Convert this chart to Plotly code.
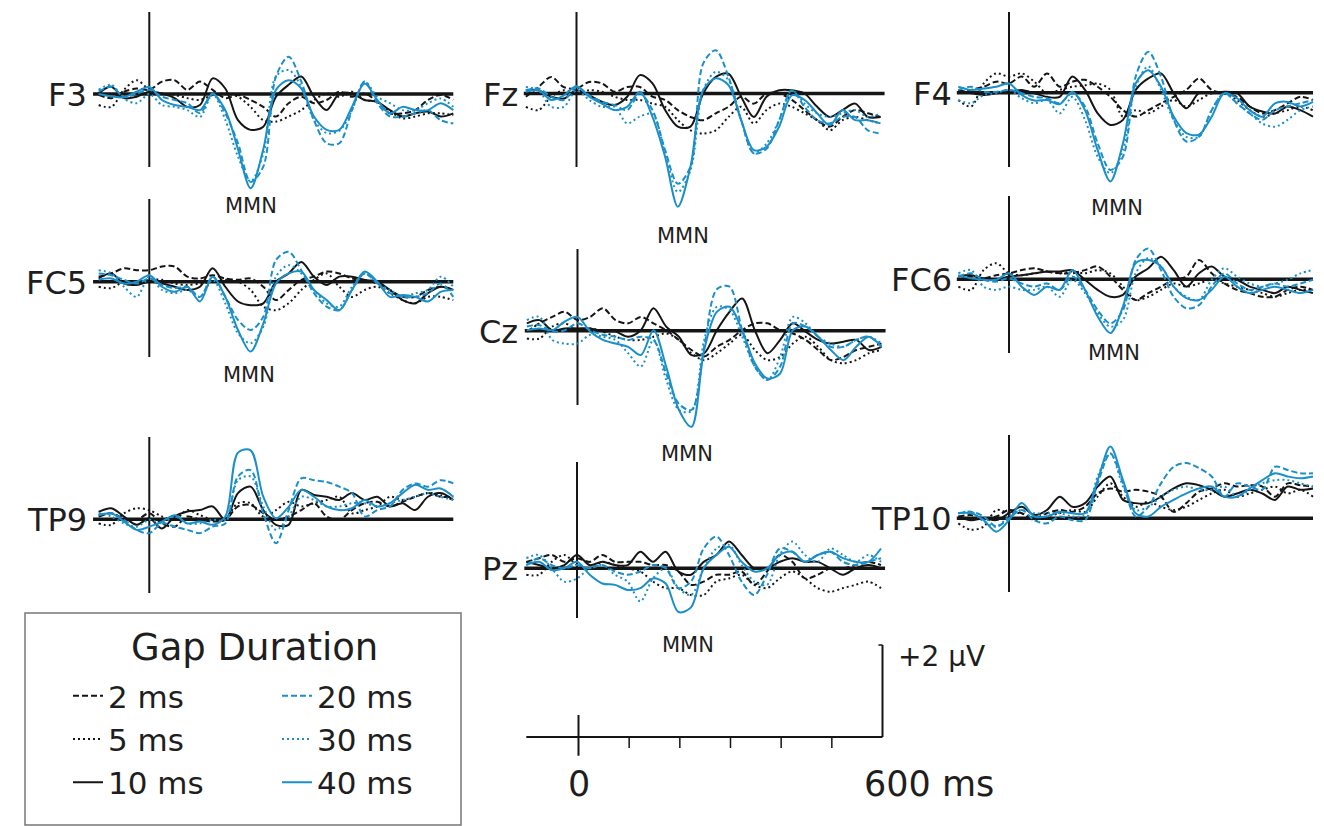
import plotly.graph_objects as go

# ---------------- data (µV), sampled every 25 ms ----------------
TIME_MS = [-100, -75, -50, -25, 0, 25, 50, 75, 100, 125, 150, 175, 200, 225, 250,
           275, 300, 325, 350, 375, 400, 425, 450, 475, 500, 525, 550, 575, 600]

GAPS = ["2 ms", "5 ms", "10 ms", "20 ms", "30 ms", "40 ms"]
ELECTRODES = ["F3", "Fz", "F4", "FC5", "Cz", "FC6", "TP9", "Pz", "TP10"]

F3_2 = [-0.02, -0.09, 0.05, 0.12, 0.09, 0.27, 0.30, 0.09, 0.27, 0.09, -0.09, -0.02, -0.13, -0.28, -0.49, -0.20, -0.06, -0.20, -0.13, 0.05, -0.06, 0.01, -0.17, -0.42, -0.42, -0.35, -0.13, -0.02, -0.13]
F3_5 = [-0.24, -0.28, 0.09, 0.30, 0.09, 0.01, -0.02, -0.09, -0.13, -0.02, 0.01, -0.06, -0.28, -0.57, -0.60, -0.49, -0.35, -0.13, 0.01, -0.06, 0.05, -0.13, -0.17, -0.38, -0.53, -0.49, -0.42, -0.42, -0.46]
F3_10 = [0.01, 0.16, -0.09, -0.06, 0.05, 0.01, -0.09, -0.28, -0.24, 0.34, 0.12, -0.57, -0.78, -0.71, -0.06, 0.20, 0.38, -0.06, -0.35, 0.01, 0.01, -0.13, -0.17, -0.35, -0.49, -0.42, -0.38, -0.49, -0.42]
F3_20 = [0.05, 0.16, -0.06, 0.01, 0.09, -0.06, -0.13, -0.20, -0.42, 0.01, -0.42, -1.07, -1.91, -1.58, 0.38, 0.81, 0.27, -0.57, -1.07, -1.07, -0.35, 0.27, -0.20, -0.49, -0.49, -0.42, -0.35, -0.57, -0.64]
F3_30 = [0.09, 0.20, -0.10, -0.20, 0.00, -0.24, -0.28, -0.35, -0.50, 0.00, -0.56, -1.36, -1.90, -1.30, 0.38, 0.52, 0.16, -0.56, -0.85, -0.80, -0.35, 0.27, -0.06, -0.20, -0.35, -0.35, -0.20, -0.10, -0.28]
F3_40 = [0.00, -0.05, -0.07, 0.05, 0.15, -0.13, -0.24, -0.28, -0.35, 0.00, -0.35, -1.20, -2.05, -1.20, 0.09, 0.30, 0.12, -0.49, -0.78, -0.78, -0.28, 0.23, -0.13, -0.42, -0.28, -0.35, -0.35, -0.20, -0.35]

Fz_2 = [-0.07, 0.14, 0.36, 0.14, 0.11, 0.25, 0.22, 0.04, 0.14, 0.14, -0.07, -0.14, -0.36, -0.51, -0.58, -0.43, -0.29, -0.07, -0.22, 0.00, 0.00, -0.14, -0.36, -0.58, -0.72, -0.51, -0.36, -0.43, -0.51]
Fz_5 = [-0.29, -0.36, -0.07, 0.07, 0.00, 0.07, 0.04, -0.07, -0.14, -0.14, -0.22, -0.29, -0.58, -0.80, -0.87, -0.80, -0.51, -0.29, -0.65, -0.36, -0.22, -0.29, -0.43, -0.58, -0.80, -0.58, -0.51, -0.58, -0.65]
Fz_10 = [0.07, 0.07, -0.07, -0.11, 0.07, -0.04, -0.18, -0.25, -0.07, 0.40, 0.22, -0.36, -0.72, -0.72, 0.00, 0.36, 0.43, -0.07, -0.51, -0.07, 0.07, 0.07, 0.00, -0.29, -0.51, -0.36, -0.22, -0.51, -0.51]
Fz_20 = [0.07, 0.11, -0.07, -0.14, 0.14, -0.04, -0.18, -0.25, -0.36, 0.00, -0.36, -1.23, -1.96, -1.59, 0.65, 0.94, 0.36, -0.58, -1.30, -1.20, -0.58, 0.07, -0.29, -0.58, -0.65, -0.51, -0.51, -0.80, -0.87]
Fz_30 = [0.14, 0.07, -0.29, -0.29, 0.07, -0.14, -0.29, -0.29, -0.65, -0.50, -0.45, -1.30, -2.14, -1.67, 0.07, 0.47, 0.29, -0.58, -1.30, -1.09, -0.58, 0.07, -0.22, -0.43, -0.51, -0.43, -0.36, -0.51, -0.43]
Fz_40 = [0.04, 0.07, -0.14, -0.04, 0.16, -0.07, -0.22, -0.36, -0.29, 0.04, -0.51, -1.38, -2.46, -1.59, 0.07, 0.33, 0.18, -0.58, -1.23, -1.16, -0.72, -0.04, -0.14, -0.43, -0.69, -0.36, -0.58, -0.58, -0.65]

F4_2 = [-0.01, 0.06, 0.13, 0.24, 0.20, 0.35, 0.13, 0.42, 0.13, 0.24, 0.28, 0.13, -0.09, -0.38, -0.52, -0.38, -0.23, -0.09, 0.06, 0.31, 0.06, -0.01, -0.09, -0.30, -0.45, -0.38, -0.23, -0.09, -0.16]
F4_5 = [-0.16, -0.30, 0.20, 0.42, 0.35, 0.42, 0.24, -0.01, 0.06, 0.13, 0.16, 0.20, 0.06, -0.52, -0.38, -0.45, -0.30, -0.16, -0.30, -0.16, -0.01, -0.01, -0.16, -0.38, -0.52, -0.45, -0.38, -0.30, -0.38]
F4_10 = [0.06, -0.01, -0.05, -0.01, 0.02, 0.06, -0.01, -0.09, -0.09, 0.35, 0.06, -0.45, -0.70, -0.59, 0.06, 0.31, 0.42, -0.01, -0.34, -0.01, -0.01, 0.02, -0.01, -0.30, -0.41, -0.45, -0.30, -0.38, -0.52]
F4_20 = [0.06, 0.13, 0.02, 0.02, 0.06, -0.01, -0.09, -0.12, -0.23, -0.01, -0.30, -1.10, -1.68, -1.39, 0.35, 0.89, 0.35, -0.59, -1.06, -0.96, -0.38, -0.01, -0.23, -0.45, -0.59, -0.38, -0.30, -0.23, -0.16]
F4_30 = [-0.16, -0.23, -0.05, -0.01, 0.06, -0.12, -0.23, -0.16, -0.45, -0.09, -0.59, -1.39, -1.75, -1.25, 0.13, 0.57, 0.06, -0.59, -0.96, -0.96, -0.38, -0.01, -0.23, -0.45, -0.67, -0.74, -0.59, -0.38, -0.30]
F4_40 = [0.13, 0.06, 0.09, 0.13, 0.20, -0.05, -0.17, -0.16, -0.25, 0.02, -0.38, -1.25, -1.93, -1.10, 0.20, 0.49, 0.13, -0.52, -0.88, -0.91, -0.52, -0.01, -0.12, -0.38, -0.52, -0.23, -0.20, -0.30, -0.20]

FC5_2 = [0.11, 0.18, 0.29, 0.25, 0.25, 0.33, 0.33, 0.11, 0.07, 0.14, 0.07, 0.04, 0.07, -0.11, -0.40, -0.18, 0.04, 0.11, 0.22, 0.18, 0.07, 0.04, -0.04, -0.18, -0.33, -0.33, -0.18, -0.11, -0.18]
FC5_5 = [-0.11, -0.14, 0.00, -0.04, 0.04, 0.04, -0.04, -0.07, -0.04, 0.00, 0.04, 0.00, -0.18, -0.54, -0.62, -0.47, -0.18, 0.04, 0.18, -0.11, -0.33, -0.18, -0.11, -0.25, -0.40, -0.47, -0.33, -0.33, -0.40]
FC5_10 = [0.07, 0.18, -0.04, -0.07, 0.00, -0.04, -0.11, -0.18, -0.11, 0.29, -0.11, -0.43, -0.51, -0.47, 0.00, 0.18, 0.43, 0.11, -0.07, 0.11, 0.11, 0.04, 0.00, -0.18, -0.40, -0.47, -0.25, -0.11, -0.18]
FC5_20 = [0.18, 0.14, 0.04, -0.04, 0.07, -0.07, -0.14, -0.11, -0.33, 0.11, -0.33, -0.83, -1.05, -0.76, 0.47, 0.65, 0.25, -0.25, -0.54, -0.62, -0.18, 0.18, -0.04, -0.25, -0.33, -0.33, -0.25, -0.04, -0.33]
FC5_30 = [0.25, 0.18, -0.11, -0.33, 0.11, -0.18, -0.25, -0.18, -0.33, 0.04, -0.47, -1.12, -1.34, -0.98, 0.11, 0.36, 0.18, -0.18, -0.47, -0.54, -0.11, 0.18, -0.04, -0.18, -0.33, -0.25, -0.18, 0.11, -0.11]
FC5_40 = [0.04, 0.07, -0.04, 0.00, 0.14, -0.11, -0.22, -0.11, -0.43, 0.11, -0.33, -1.05, -1.52, -0.91, -0.04, 0.18, 0.22, -0.18, -0.40, -0.62, -0.18, 0.22, 0.00, -0.33, -0.29, -0.33, -0.43, -0.22, -0.18]

Cz_2 = [-0.02, 0.16, 0.30, 0.41, 0.23, 0.30, 0.49, 0.23, 0.16, 0.30, 0.16, 0.01, -0.20, -0.42, -0.56, -0.35, -0.20, 0.01, 0.16, 0.16, 0.01, -0.06, -0.20, -0.42, -0.64, -0.57, -0.42, -0.35, -0.28]
Cz_5 = [-0.17, -0.17, 0.09, 0.16, 0.01, 0.05, -0.02, -0.13, -0.20, -0.20, -0.13, -0.06, -0.20, -0.49, -0.64, -0.49, -0.28, -0.09, -0.42, -0.64, -0.57, -0.28, -0.13, -0.35, -0.64, -0.71, -0.64, -0.49, -0.42]
Cz_10 = [0.16, 0.23, 0.01, 0.05, 0.05, 0.05, -0.02, -0.02, -0.13, 0.01, 0.49, 0.09, -0.13, -0.53, -0.49, 0.01, 0.41, 0.70, 0.01, -0.49, -0.20, 0.16, -0.02, -0.20, -0.28, -0.24, -0.20, -0.42, -0.35]
Cz_20 = [0.09, 0.12, -0.02, 0.01, 0.16, 0.01, -0.09, -0.13, -0.20, -0.13, -0.20, -0.93, -1.59, -1.72, -0.35, 0.90, 0.96, 0.01, -0.78, -1.07, -0.78, 0.16, 0.09, -0.13, -0.35, -0.35, -0.20, -0.13, -0.35]
Cz_30 = [0.23, 0.30, -0.20, -0.28, -0.28, -0.09, -0.13, -0.20, -0.49, -0.78, -0.20, -1.07, -1.72, -1.75, -0.20, 0.52, 0.45, -0.13, -0.78, -1.07, -0.57, 0.30, 0.16, -0.13, -0.28, -0.35, -0.20, -0.13, -0.28]
Cz_40 = [0.01, 0.05, 0.01, 0.20, 0.30, -0.02, -0.20, -0.28, -0.35, -0.53, 0.01, -0.78, -1.72, -2.09, -0.42, 0.41, 0.52, 0.01, -0.71, -1.04, -0.93, 0.01, 0.09, -0.13, -0.42, -0.64, -0.35, -0.13, -0.35]

FC6_2 = [-0.01, 0.06, 0.02, 0.09, 0.13, 0.20, 0.24, 0.17, 0.13, 0.13, 0.20, 0.28, 0.06, -0.23, -0.45, -0.30, -0.16, -0.01, 0.06, 0.42, 0.13, -0.09, -0.23, -0.30, -0.38, -0.38, -0.23, -0.16, -0.23]
FC6_5 = [-0.16, -0.23, 0.20, 0.35, 0.13, 0.09, 0.13, 0.17, 0.13, 0.17, 0.13, 0.20, 0.13, -0.16, -0.45, -0.38, -0.23, -0.09, -0.16, -0.09, -0.01, -0.09, -0.16, -0.23, -0.30, -0.38, -0.30, -0.23, -0.23]
FC6_10 = [0.06, 0.09, 0.02, -0.01, 0.06, 0.09, 0.13, 0.17, 0.17, 0.20, -0.01, -0.23, -0.38, -0.34, 0.06, 0.24, 0.49, 0.20, -0.16, 0.13, 0.28, 0.06, -0.01, -0.16, -0.23, -0.30, -0.16, -0.23, -0.30]
FC6_20 = [0.06, 0.13, -0.01, -0.05, 0.02, -0.09, -0.16, -0.09, -0.23, 0.06, -0.23, -0.67, -0.96, -0.67, 0.42, 0.67, 0.20, -0.38, -0.63, -0.56, -0.16, 0.13, -0.09, -0.23, -0.16, -0.09, -0.16, -0.09, -0.01]
FC6_30 = [0.13, 0.20, -0.16, -0.23, -0.16, -0.23, -0.23, -0.16, -0.38, -0.01, -0.30, -0.74, -1.03, -0.88, 0.13, 0.46, 0.28, -0.16, -0.38, -0.45, -0.01, 0.24, 0.06, -0.09, -0.16, -0.09, -0.01, 0.13, 0.20]
FC6_40 = [0.09, 0.02, -0.01, -0.01, 0.13, -0.16, -0.34, -0.16, -0.23, 0.20, -0.23, -0.81, -1.17, -0.59, 0.35, 0.42, 0.28, -0.16, -0.41, -0.45, -0.23, 0.06, -0.16, -0.30, -0.23, -0.16, -0.23, -0.30, -0.23]

TP9_2 = [0.06, 0.13, 0.02, -0.01, 0.13, -0.09, -0.16, 0.06, -0.01, -0.05, -0.01, 0.28, 0.31, 0.13, -0.01, 0.06, 0.20, 0.35, 0.06, -0.01, 0.20, 0.35, 0.38, 0.28, 0.38, 0.49, 0.57, 0.49, 0.49]
TP9_5 = [-0.09, -0.12, 0.13, 0.24, 0.20, 0.06, -0.01, 0.20, 0.09, -0.01, 0.02, 0.35, 0.35, 0.06, 0.20, 0.38, 0.28, 0.35, 0.42, 0.49, 0.13, 0.20, 0.28, 0.49, 0.42, 0.49, 0.57, 0.53, 0.42]
TP9_10 = [0.16, 0.24, 0.06, -0.12, 0.02, -0.20, 0.06, 0.17, 0.20, 0.28, -0.01, 0.57, 0.71, 0.20, -0.12, -0.12, 0.64, 0.53, 0.49, 0.42, 0.57, 0.42, 0.49, 0.28, 0.35, 0.20, 0.49, 0.57, 0.42]
TP9_20 = [0.09, 0.13, -0.01, -0.23, -0.30, -0.09, -0.16, -0.23, -0.30, -0.16, -0.09, 0.93, 1.07, 0.13, -0.52, 0.20, 0.89, 0.85, 0.81, 0.71, 0.57, 0.06, 0.20, 0.28, 0.64, 0.78, 0.71, 0.85, 0.78]
TP9_30 = [0.13, 0.06, -0.09, -0.16, -0.01, -0.09, 0.06, -0.09, -0.09, -0.01, -0.01, 0.85, 0.93, 0.28, -0.23, 0.06, 0.49, 0.42, 0.28, 0.28, 0.35, 0.35, 0.28, 0.35, 0.42, 0.49, 0.57, 0.49, 0.42]
TP9_40 = [0.09, 0.13, -0.05, -0.23, -0.16, -0.05, 0.09, -0.09, -0.05, -0.12, 0.06, 1.45, 1.50, 0.49, 0.02, 0.27, 0.64, 0.49, 0.28, 0.20, 0.24, 0.42, 0.28, 0.35, 0.57, 0.75, 0.64, 0.67, 0.49]

Pz_2 = [0.14, 0.22, 0.29, 0.14, 0.22, 0.14, 0.29, 0.14, 0.14, 0.14, 0.07, 0.07, -0.07, -0.36, -0.29, -0.14, -0.14, -0.07, -0.36, -0.07, 0.29, 0.14, -0.22, -0.14, 0.00, 0.00, 0.07, 0.14, 0.07]
Pz_5 = [-0.14, -0.14, 0.14, 0.29, 0.07, 0.00, 0.14, 0.07, 0.00, -0.07, -0.29, -0.43, -0.43, -0.58, -0.58, -0.29, -0.22, -0.14, -0.36, -0.43, -0.22, -0.07, -0.22, -0.43, -0.51, -0.43, -0.36, -0.29, -0.43]
Pz_10 = [0.14, 0.07, 0.00, 0.07, 0.29, 0.07, 0.14, 0.07, 0.07, 0.36, 0.14, 0.36, -0.07, -0.14, 0.14, 0.29, 0.58, 0.29, 0.00, 0.00, 0.14, 0.22, 0.14, 0.14, 0.00, -0.14, 0.00, 0.07, 0.00]
Pz_20 = [0.07, 0.22, 0.07, 0.00, 0.07, 0.00, 0.07, -0.07, -0.14, -0.07, 0.07, 0.00, -0.43, -0.29, 0.43, 0.69, 0.29, -0.29, -0.58, -0.14, 0.43, 0.36, 0.14, 0.29, 0.36, 0.14, 0.07, 0.14, 0.22]
Pz_30 = [0.22, 0.29, 0.00, -0.29, -0.22, 0.00, 0.07, -0.14, -0.29, -0.72, -0.22, 0.00, -0.43, -0.58, 0.00, 0.43, 0.51, 0.07, -0.29, -0.36, 0.29, 0.58, 0.29, 0.14, 0.43, 0.29, 0.14, 0.29, 0.14]
Pz_40 = [0.07, 0.14, -0.04, 0.00, 0.14, -0.14, -0.33, -0.36, -0.47, -0.43, -0.22, -0.33, -0.95, -0.85, 0.00, 0.29, 0.47, 0.14, -0.07, 0.00, 0.29, 0.36, 0.14, 0.29, 0.36, 0.22, 0.14, 0.14, 0.43]

TP10_2 = [0.04, 0.07, 0.00, 0.04, 0.18, 0.11, 0.00, 0.11, 0.18, 0.14, 0.25, 0.54, 0.65, 0.58, 0.62, 0.58, 0.47, 0.14, 0.33, 0.58, 0.65, 0.76, 0.69, 0.72, 0.69, 0.47, 0.76, 0.72, 0.69]
TP10_5 = [-0.11, -0.25, -0.18, 0.18, 0.11, 0.11, -0.04, 0.04, 0.11, 0.18, 0.14, 0.47, 0.76, 0.47, 0.25, 0.36, 0.25, 0.18, 0.25, 0.40, 0.54, 0.62, 0.47, 0.54, 0.62, 0.69, 0.54, 0.62, 0.47]
TP10_10 = [0.04, -0.04, 0.00, -0.04, 0.11, 0.25, 0.07, 0.18, 0.47, 0.25, 0.33, 0.69, 0.91, 0.40, 0.33, 0.33, 0.47, 0.65, 0.76, 0.72, 0.62, 0.47, 0.54, 0.62, 0.54, 0.40, 0.69, 0.62, 0.65]
TP10_20 = [0.11, 0.14, 0.04, -0.18, 0.00, 0.18, -0.04, -0.11, 0.04, -0.04, -0.04, 0.76, 1.41, 0.76, 0.04, 0.25, 0.76, 1.12, 1.20, 1.09, 0.91, 0.47, 0.76, 0.69, 0.62, 1.12, 1.05, 0.98, 0.98]
TP10_30 = [0.11, 0.14, -0.07, -0.18, 0.04, 0.18, 0.11, 0.11, 0.11, 0.04, 0.07, 0.91, 1.41, 0.69, 0.18, 0.25, 0.47, 0.62, 0.69, 0.62, 0.62, 0.69, 0.47, 0.62, 0.76, 0.83, 0.83, 0.76, 0.69]
TP10_40 = [0.11, 0.11, -0.04, -0.29, -0.04, 0.33, 0.04, 0.04, 0.14, 0.11, 0.11, 0.83, 1.56, 0.83, 0.11, 0.04, 0.25, 0.40, 0.54, 0.65, 0.69, 0.47, 0.47, 0.65, 0.83, 0.98, 0.91, 0.87, 0.91]

WAVES = {
    "F3": [F3_2, F3_5, F3_10, F3_20, F3_30, F3_40],
    "Fz": [Fz_2, Fz_5, Fz_10, Fz_20, Fz_30, Fz_40],
    "F4": [F4_2, F4_5, F4_10, F4_20, F4_30, F4_40],
    "FC5": [FC5_2, FC5_5, FC5_10, FC5_20, FC5_30, FC5_40],
    "Cz": [Cz_2, Cz_5, Cz_10, Cz_20, Cz_30, Cz_40],
    "FC6": [FC6_2, FC6_5, FC6_10, FC6_20, FC6_30, FC6_40],
    "TP9": [TP9_2, TP9_5, TP9_10, TP9_20, TP9_30, TP9_40],
    "Pz": [Pz_2, Pz_5, Pz_10, Pz_20, Pz_30, Pz_40],
    "TP10": [TP10_2, TP10_5, TP10_10, TP10_20, TP10_30, TP10_40],
}
MMN_ELECTRODES = ["F3", "Fz", "F4", "FC5", "Cz", "FC6", "Pz"]
SCALE_TICKS_MS = [100, 200, 300, 400, 500]
SCALE_UV = 2

# ---------------- layout / styling ----------------
W, H = 1324, 826
PX_PER_MS = 304 / 600.0
PX_PER_UV = 46.0
BLUE = "#1b8fc9"
INK = "#151515"
TXT = "#1e1e1e"
FONT = "DejaVu Sans"

LINE_STYLE = {
    "2 ms": (INK, "6px,3px"), "5 ms": (INK, "2px,3px"), "10 ms": (INK, "solid"),
    "20 ms": (BLUE, "6px,3px"), "30 ms": (BLUE, "2px,3px"), "40 ms": (BLUE, "solid"),
}

# pixel anchor of each panel: (x of t=0, y of 0 µV, top of vertical line, bottom of vertical line, column)
PANEL_POS = {
    "F3": (149.3, 94.0, 12, 167, "L"),
    "Fz": (576.5, 93.5, 12, 167, "M"),
    "F4": (1009.0, 92.7, 12, 167, "R"),
    "FC5": (149.3, 281.7, 199, 357, "L"),
    "Cz": (577.5, 330.7, 249, 405, "M"),
    "FC6": (1009.0, 279.3, 196, 353, "R"),
    "TP9": (149.3, 519.3, 437, 593, "L"),
    "Pz": (577.0, 568.3, 462, 618, "M"),
    "TP10": (1009.0, 518.3, 435, 592, "R"),
}
BASE_EXTENT = {"L": (-111, 600), "M": (-104, 608), "R": (-103, 600)}
LABEL_RIGHT = {"L": 89, "M": 520, "R": 954}
MMN_POS = {"F3": (251, 206), "Fz": (683, 236), "F4": (1117, 208), "FC5": (249, 375),
           "Cz": (687, 454), "FC6": (1114, 353), "Pz": (688, 645)}
X_RANGE = (-125, 620)


def px(xp):
    return xp / W


def py(yp):
    return 1 - yp / H


fig = go.Figure()
layout_axes = {}
shapes = []
annotations = []


def add_axes(idx, x0p, y0p):
    xd0 = (x0p + X_RANGE[0] * PX_PER_MS) / W
    xd1 = (x0p + X_RANGE[1] * PX_PER_MS) / W
    top = max(0.0, y0p - 3.2 * PX_PER_UV)
    bot = min(float(H), y0p + 3.2 * PX_PER_UV)
    yr = [(y0p - bot) / PX_PER_UV, (y0p - top) / PX_PER_UV]
    sfx = "" if idx == 1 else str(idx)
    layout_axes["xaxis" + sfx] = dict(domain=[xd0, min(1.0, xd1)], range=list(X_RANGE),
                                      visible=False, fixedrange=True, anchor="y" + sfx)
    layout_axes["yaxis" + sfx] = dict(domain=[1 - bot / H, 1 - top / H], range=yr,
                                      visible=False, fixedrange=True, anchor="x" + sfx)
    return "x" + sfx, "y" + sfx


for i, el in enumerate(ELECTRODES, start=1):
    x0p, y0p, vtop, vbot, col = PANEL_POS[el]
    xa, ya = add_axes(i, x0p, y0p)
    # axes: baseline and stimulus-onset line
    b0, b1 = BASE_EXTENT[col]
    shapes.append(dict(type="line", xref=xa, yref=ya, x0=b0, x1=b1, y0=0, y1=0,
                       line=dict(color=INK, width=3.5), layer="below"))
    shapes.append(dict(type="line", xref=xa, yref=ya, x0=0, x1=0,
                       y0=(y0p - vbot) / PX_PER_UV, y1=(y0p - vtop) / PX_PER_UV,
                       line=dict(color=INK, width=2), layer="below"))
    for g, vals in zip(GAPS, WAVES[el]):
        color, dash = LINE_STYLE[g]
        fig.add_trace(go.Scatter(
            x=TIME_MS, y=vals, mode="lines", name=g, xaxis=xa, yaxis=ya,
            line=dict(color=color, width=2, dash=dash, shape="spline", smoothing=0.9),
            showlegend=(i == 1), legend=("legend" if color == INK else "legend2"),
            hoverinfo="skip"))
    annotations.append(dict(text=el, x=px(LABEL_RIGHT[col]), y=py(y0p + 1), xref="paper", yref="paper",
                            xanchor="right", yanchor="middle", showarrow=False,
                            font=dict(size=32, family=FONT, color=TXT)))
    if el in MMN_ELECTRODES:
        mx, my = MMN_POS[el]
        annotations.append(dict(text="MMN", x=px(mx), y=py(my), xref="paper", yref="paper",
                                xanchor="center", yanchor="middle", showarrow=False,
                                font=dict(size=21, family=FONT, color=TXT)))

# calibration bar
sx, sy = 578.5, 737.0
xa, ya = add_axes(10, sx, sy)
shapes.append(dict(type="line", xref=xa, yref=ya, x0=-103, x1=600, y0=0, y1=0, line=dict(color=INK, width=2)))
shapes.append(dict(type="line", xref=xa, yref=ya, x0=600, x1=600, y0=0, y1=SCALE_UV, line=dict(color=INK, width=2)))
shapes.append(dict(type="line", xref=xa, yref=ya, x0=592, x1=600, y0=SCALE_UV, y1=SCALE_UV, line=dict(color=INK, width=1.5)))
shapes.append(dict(type="line", xref=xa, yref=ya, x0=0, x1=0, y0=-0.41, y1=0.48, line=dict(color=INK, width=2)))
for t in SCALE_TICKS_MS:
    shapes.append(dict(type="line", xref=xa, yref=ya, x0=t, x1=t, y0=0, y1=-0.24, line=dict(color=INK, width=1.5)))
annotations.append(dict(text="0", x=px(sx + 0 * PX_PER_MS), y=py(784), xref="paper", yref="paper",
                        xanchor="center", yanchor="middle", showarrow=False,
                        font=dict(size=35, family=FONT, color=TXT)))
annotations.append(dict(text="600 ms", x=px(862), y=py(784), xref="paper", yref="paper",
                        xanchor="left", yanchor="middle", showarrow=False,
                        font=dict(size=35, family=FONT, color=TXT)))
annotations.append(dict(text="+2 µV", x=px(896), y=py(656), xref="paper", yref="paper",
                        xanchor="left", yanchor="middle", showarrow=False,
                        font=dict(size=28, family=FONT, color=TXT)))

# legend frame + title
shapes.append(dict(type="rect", xref="paper", yref="paper", x0=px(25), x1=px(461), y0=py(825), y1=py(613),
                   line=dict(color="#777", width=1.5), fillcolor="rgba(0,0,0,0)"))
annotations.append(dict(text="Gap Duration", x=px(254), y=py(647), xref="paper", yref="paper",
                        xanchor="center", yanchor="middle", showarrow=False,
                        font=dict(size=37, family=FONT, color=TXT)))

legend_common = dict(orientation="v", xanchor="left", yanchor="top", bgcolor="rgba(0,0,0,0)",
                     borderwidth=0, font=dict(size=31, family=FONT, color=TXT),
                     tracegroupgap=0, itemclick=False, itemdoubleclick=False)

fig.update_layout(
    width=W, height=H, margin=dict(l=0, r=0, t=0, b=0),
    paper_bgcolor="white", plot_bgcolor="rgba(0,0,0,0)",
    shapes=shapes, annotations=annotations,
    legend=dict(x=px(68), y=py(669), **legend_common),
    legend2=dict(x=px(277), y=py(669), **legend_common),
    **layout_axes,
)

fig.write_html("out.html")
